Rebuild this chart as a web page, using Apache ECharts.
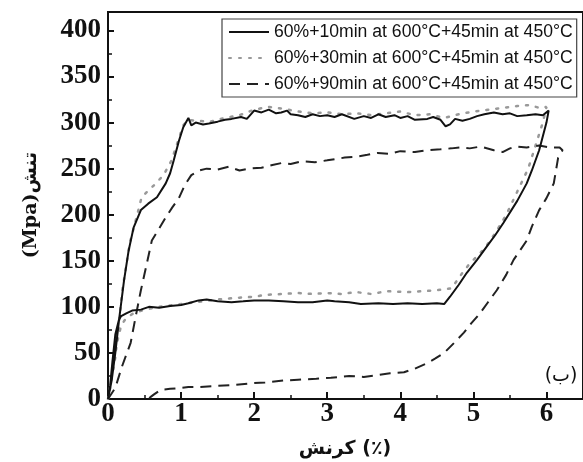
<!DOCTYPE html>
<html>
<head>
<meta charset="utf-8">
<script src="https://cdn.jsdelivr.net/npm/echarts@6/dist/echarts.min.js"></script>
<style>html,body{margin:0;padding:0;background:#fff}#c{width:583px;height:462px}</style>
</head>
<body>
<div id="c"></div>
<script>
var seriesNames = [
  '60%+10min at 600°C+45min at 450°C',
  '60%+30min at 600°C+45min at 450°C',
  '60%+90min at 600°C+45min at 450°C'
];
var xTicks = [0, 1, 2, 3, 4, 5, 6];
var yTicks = [0, 50, 100, 150, 200, 250, 300, 350, 400];

var curve10 = [
  [0,0],[0.05,20],[0.1,50],[0.15,85],[0.22,129],[0.28,160],[0.35,186],[0.45,205],[0.55,212],[0.67,219],
  [0.79,234],[0.85,245],[0.9,259],[0.97,280],[1.03,295],[1.1,305],[1.14,297],[1.2,300],[1.3,298],[1.38,299],
  [1.5,301],[1.6,303],[1.69,304],[1.82,306],[1.9,304],[2.0,313],[2.1,311],[2.2,314],[2.3,310],[2.37,311],
  [2.45,313],[2.5,309],[2.6,308],[2.7,306],[2.8,309],[2.9,307],[3.0,308],[3.1,306],[3.2,309],[3.37,304],
  [3.5,307],[3.6,305],[3.7,309],[3.8,306],[3.92,308],[4.0,305],[4.1,307],[4.2,303],[4.37,304],[4.45,306],
  [4.55,303],[4.62,296],[4.68,298],[4.75,304],[4.85,302],[4.95,304],[5.05,307],[5.15,309],[5.28,311],[5.4,309],
  [5.5,310],[5.6,307],[5.73,308],[5.85,309],[5.95,308],[6.03,313],
  [6.0,300],[5.9,270],[5.8,248],[5.73,234],[5.6,215],[5.41,191],[5.3,178],[5.18,165],[5.05,151],[4.91,137],
  [4.8,124],[4.68,111],[4.6,103],[4.5,104],[4.3,103],[4.1,104],[3.9,103],[3.7,104],[3.46,103],[3.3,105],
  [3.1,106],[3.0,107],[2.8,105],[2.6,105],[2.4,106],[2.2,107],[2.0,107],[1.85,106],[1.69,105],[1.5,106],
  [1.35,108],[1.24,107],[1.1,104],[1.0,102],[0.85,101],[0.7,99],[0.56,100],[0.45,97],[0.33,96],[0.25,93],
  [0.18,90],[0.15,86],[0.1,70],[0.06,40],[0.03,15],[0,0]
];
var curve30 = [
  [0,0],[0.1,45],[0.2,120],[0.3,170],[0.4,200],[0.46,219],[0.55,226],[0.63,232],[0.76,243],[0.87,259],
  [0.95,278],[1.03,297],[1.1,303],[1.2,302],[1.4,301],[1.6,305],[1.8,308],[2.0,314],[2.2,317],[2.4,315],
  [2.6,312],[2.8,310],[3.0,311],[3.2,309],[3.4,310],[3.6,308],[3.8,310],[4.0,312],[4.2,308],[4.4,309],
  [4.6,305],[4.8,309],[5.0,312],[5.2,314],[5.4,316],[5.6,318],[5.77,319],[5.9,316],[6.0,317],
  [5.95,300],[5.85,275],[5.75,250],[5.6,225],[5.45,200],[5.3,180],[5.15,163],[4.95,147],[4.85,137],[4.78,129],
  [4.7,120],[4.5,118],[4.3,117],[4.1,116],[3.82,117],[3.6,114],[3.4,116],[3.2,114],[3.0,115],[2.8,114],
  [2.6,115],[2.4,114],[2.15,113],[2.0,111],[1.8,110],[1.5,108],[1.3,106],[1.1,104],[0.9,102],[0.7,100],
  [0.5,97],[0.35,93],[0.25,88],[0.18,80],[0.12,60],[0.07,35],[0.03,12],[0,0]
];
var curve90 = [
  [0,0],[0.1,12],[0.19,35],[0.31,61],[0.38,90],[0.45,118],[0.52,143],[0.6,172],[0.7,185],[0.79,197],
  [0.88,208],[0.97,218],[1.05,232],[1.14,243],[1.25,248],[1.35,250],[1.5,249],[1.65,252],[1.8,248],[1.92,250],
  [2.1,251],[2.25,254],[2.37,256],[2.5,255],[2.65,258],[2.83,257],[3.0,259],[3.24,262],[3.4,263],[3.55,265],
  [3.69,267],[3.85,266],[4.0,269],[4.2,268],[4.37,270],[4.55,271],[4.7,272],[4.82,273],[4.95,272],[5.1,274],
  [5.28,270],[5.4,268],[5.5,272],[5.6,274],[5.73,273],[5.9,275],[6.05,273],[6.18,273],[6.22,270],
  [6.16,262],[6.1,234],[6.0,218],[5.9,205],[5.8,187],[5.73,172],[5.55,151],[5.45,135],[5.32,118],[5.2,105],
  [5.09,93],[4.97,82],[4.87,72],[4.75,62],[4.6,50],[4.48,44],[4.37,39],[4.2,33],[4.05,29],[3.86,28],
  [3.7,26],[3.5,24],[3.3,25],[3.05,23],[2.85,22],[2.6,21],[2.4,20],[2.15,18],[1.95,17],[1.69,15],
  [1.45,14],[1.24,13],[1.1,13],[1.0,12],[0.85,11],[0.72,10],[0.63,5],[0.58,2],[0.55,0]
];

var chart = echarts.init(document.getElementById('c'), null, {renderer: 'canvas'});
var serif = '"Liberation Serif", "Times New Roman", serif';
var axisLabelStyle = {fontFamily: serif, fontWeight: 'bold', fontSize: 27, color: '#111'};
var hidden = {color: 'rgba(0,0,0,0)', opacity: 0};

chart.setOption({
  animation: false,
  backgroundColor: '#fff',
  grid: {left: 108, top: 12, right: -3, bottom: 63, show: true, borderColor: '#111', borderWidth: 2},
  xAxis: {
    type: 'value', min: 0, max: 6.5, interval: 1,
    axisLine: {show: true, onZero: false, lineStyle: {color: '#111', width: 2}},
    axisTick: {show: true, inside: true, length: 7, lineStyle: {color: '#111', width: 2}},
    minorTick: {show: true, splitNumber: 2, length: 4, lineStyle: {color: '#111', width: 1.5}},
    splitLine: {show: false},
    axisLabel: Object.assign({margin: 2, showMaxLabel: false, formatter: function (v) { return xTicks.indexOf(v) >= 0 ? String(v) : ''; }}, axisLabelStyle)
  },
  yAxis: {
    type: 'value', min: 0, max: 420, interval: 50,
    axisLine: {show: true, onZero: false, lineStyle: {color: '#111', width: 2}},
    axisTick: {show: true, inside: true, length: 6, lineStyle: {color: '#111', width: 2}},
    minorTick: {show: true, splitNumber: 2, length: 4, lineStyle: {color: '#111', width: 1.5}},
    splitLine: {show: false},
    axisLabel: Object.assign({margin: 7, showMaxLabel: false, formatter: function (v) { return yTicks.indexOf(v) >= 0 ? String(v) : ''; }}, axisLabelStyle)
  },
  legend: {
    orient: 'vertical', left: 222, top: 19,
    itemWidth: 40, itemHeight: 14, itemGap: 6,
    padding: [3, 4, 3, 6],
    borderColor: '#444', borderWidth: 1.2, backgroundColor: '#fff',
    itemStyle: hidden,
    textStyle: {fontFamily: '"Liberation Sans", Arial, sans-serif', fontSize: 17.6, color: '#111', lineHeight: 20},
    data: seriesNames
  },
  series: [
    {name: seriesNames[0], type: 'line', data: curve10, symbol: 'none', z: 3,
     lineStyle: {color: '#111', width: 2}, itemStyle: hidden},
    {name: seriesNames[1], type: 'line', data: curve30, symbol: 'none', z: 2,
     lineStyle: {color: '#999', width: 2.5, type: [2, 8], cap: 'round'}, itemStyle: hidden},
    {name: seriesNames[2], type: 'line', data: curve90, symbol: 'none', z: 2,
     lineStyle: {color: '#222', width: 2, type: [11, 7]}, itemStyle: hidden}
  ],
  graphic: [
    {type: 'text', x: 31, y: 205, rotation: Math.PI / 2,
     style: {text: '(Mpa)تنش', fontFamily: '"DejaVu Serif", "DejaVu Sans", serif', fontWeight: 'bold', fontSize: 19, fill: '#111', align: 'center', verticalAlign: 'middle'}},
    {type: 'text', x: 345, y: 449,
     style: {text: 'کرنش (٪)', fontFamily: '"DejaVu Sans", sans-serif', fontWeight: 'bold', fontSize: 19, fill: '#111', align: 'center', verticalAlign: 'middle'}},
    {type: 'text', x: 561, y: 376,
     style: {text: '(ب)', fontFamily: '"DejaVu Sans", sans-serif', fontSize: 19, fill: '#111', align: 'center', verticalAlign: 'middle'}}
  ]
});
</script>
</body>
</html>
